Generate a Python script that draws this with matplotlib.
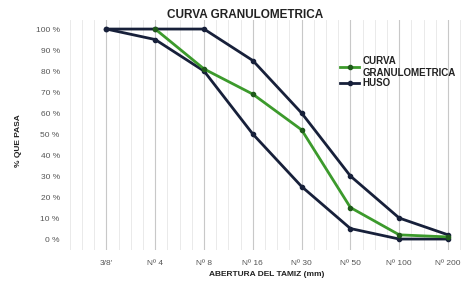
import matplotlib
matplotlib.use("Agg")
import matplotlib.pyplot as plt
from matplotlib.ticker import MultipleLocator

plt.rcParams['font.family'] = ['Liberation Sans', 'DejaVu Sans']

tamices = ["3/8'", "Nº 4", "Nº 8", "Nº 16", "Nº 30", "Nº 50", "Nº 100", "Nº 200"]
curva = [None, 100, 81, 69, 52, 15, 2, 1]
huso_sup = [100, 100, 100, 85, 60, 30, 10, 2]
huso_inf = [100, 95, 80, 50, 25, 5, 0, 0]
y_ticks = [0, 10, 20, 30, 40, 50, 60, 70, 80, 90, 100]

verde = "#3c9a2c"
azul = "#17203a"

fig = plt.figure(figsize=(4.63, 2.86), dpi=100)
ax = fig.add_axes([0.15, 0.126, 0.85, 0.804])

x = list(range(len(tamices)))
xc = [i for i, v in zip(x, curva) if v is not None]
yc = [v for v in curva if v is not None]

ax.plot(x, huso_sup, color=azul, lw=2, marker="o", ms=3, label="HUSO")
ax.plot(x, huso_inf, color=azul, lw=2, marker="o", ms=3)
ax.plot(xc, yc, color=verde, lw=2, marker="o", ms=3, mfc="#1f5a1a", mec="#1f5a1a",
        label="CURVA\nGRANULOMETRICA")

ax.set_xlim((69 - 106) / 48.86, (463 - 106) / 48.86)
ax.set_ylim(-5.2, 104.3)
ax.set_xticks(x)
ax.set_xticklabels(tamices, fontsize=6, color="#555555")
ax.set_yticks(y_ticks)
ax.set_yticklabels([f"{v} %" for v in y_ticks], fontsize=6, color="#555555")
ax.tick_params(which="both", length=0, pad=7)
ax.xaxis.set_minor_locator(MultipleLocator(0.25))
ax.grid(axis="x", which="major", color="#c8c8c8", lw=0.8)
ax.grid(axis="x", which="minor", color="#e6e6e6", lw=0.6)
for s in ax.spines.values():
    s.set_visible(False)

fig.text(245 / 463, 1 - 15 / 286, "CURVA GRANULOMETRICA", fontsize=8.5, fontweight="bold",
         color="#222222", ha="center", va="center")
ax.set_xlabel("ABERTURA DEL TAMIZ (mm)", fontsize=6, fontweight="bold", color="#222222", labelpad=3)
fig.text(0.04, 0.51, "% QUE PASA", rotation=90, fontsize=6, fontweight="bold",
         color="#222222", ha="center", va="center")

h, l = ax.get_legend_handles_labels()
leg = ax.legend(h[::-1], l[::-1], loc="upper left", bbox_to_anchor=(0.675, 0.865),
                frameon=False, fontsize=7, handlelength=2.0, handletextpad=0.3,
                labelspacing=0.1, borderpad=0)
for t in leg.get_texts():
    t.set_fontweight("bold")
    t.set_color("#222222")

fig.savefig("out.png", dpi=100)
